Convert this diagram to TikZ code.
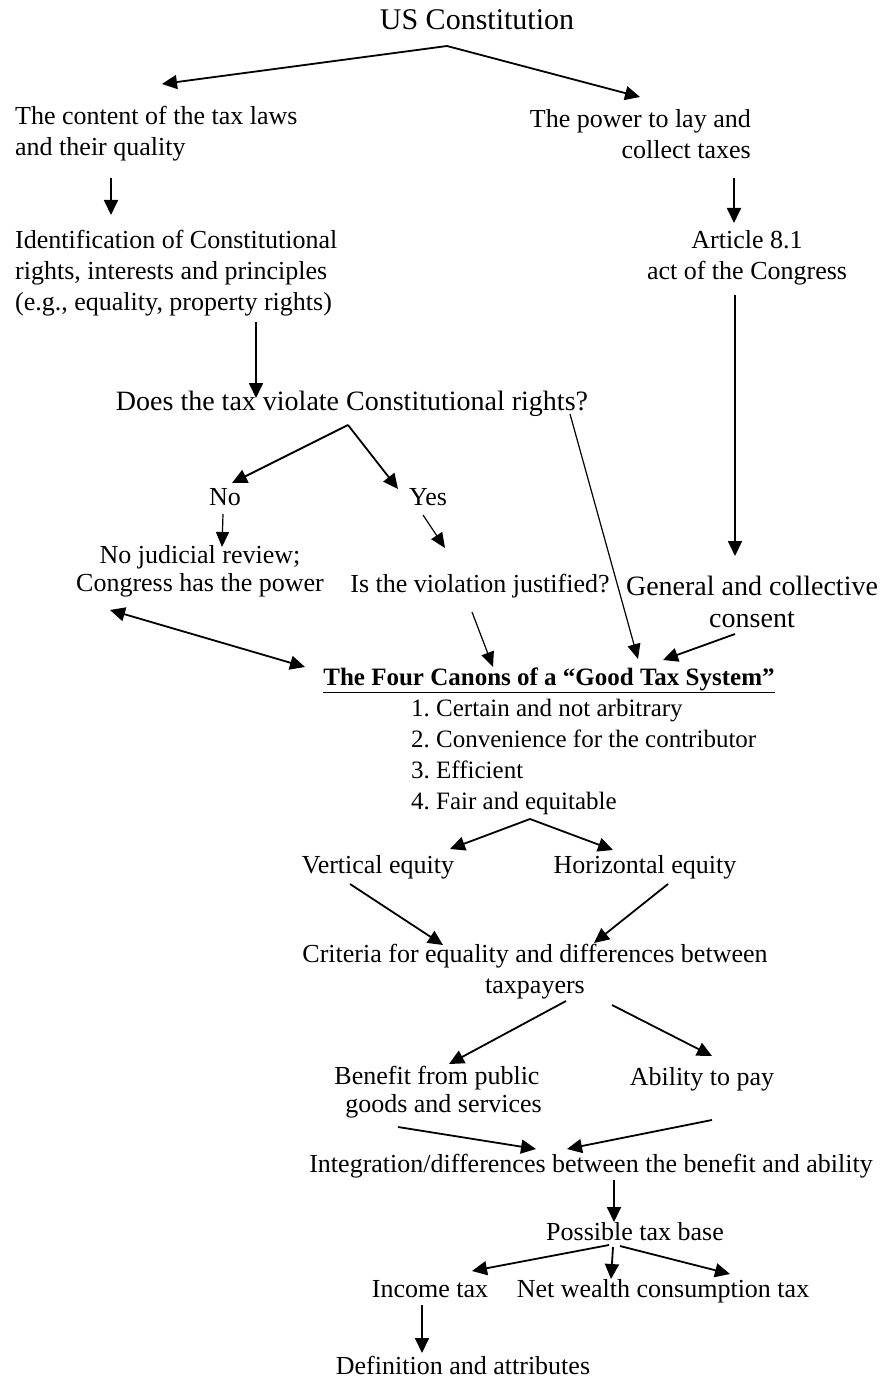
\documentclass[tikz,border=0pt]{standalone}
\usepackage{fontspec}
\setmainfont{Liberation Serif}
\usetikzlibrary{arrows.meta}
\frenchspacing
\tikzset{
  txt/.style={inner sep=0pt, font=\fontsize{26}{31}\selectfont},
  arr/.style={line width=1.8pt, -{Triangle[length=15pt,width=14pt]}},
  thinarr/.style={line width=1.2pt, -{Triangle[length=15pt,width=13pt]}},
  dblarr/.style={line width=1.8pt, {Triangle[length=15pt,width=14pt]}-{Triangle[length=15pt,width=14pt]}},
}
\begin{document}
\begin{tikzpicture}[x=1pt,y=-1pt]
\useasboundingbox (0,0) rectangle (886,1380);
% nodes
\node[txt, font=\fontsize{30}{34}\selectfont] (us) at (477,20) {US Constitution};
\node[txt, anchor=west, align=left] (content) at (15,134) {The content of the tax laws\\and their quality};
\node[txt, anchor=east, align=right] (power) at (751,134) {The power to lay and\\collect taxes};
\node[txt, anchor=west, align=left] (ident) at (15,273) {Identification of Constitutional\\rights, interests and principles\\(e.g., equality, property rights)};
\node[txt, align=center] (article) at (747,258) {Article 8.1\\act of the Congress};
\node[txt, font=\fontsize{28}{32}\selectfont] (does) at (352,404) {Does the tax violate Constitutional rights?};
\node[txt, anchor=base] (no) at (225,505) {No};
\node[txt, anchor=base] (yes) at (428,505) {Yes};
\node[txt, align=center, font=\fontsize{26}{28}\selectfont] (nojud) at (200,571) {No judicial review;\\Congress has the power};
\node[txt] (isviol) at (480,586) {Is the violation justified?};
\node[txt, align=center, font=\fontsize{28}{32}\selectfont] (general) at (752,602) {General and collective\\consent};
\node[txt, font=\fontsize{25}{31}\bfseries] (canons) at (549,680) {\underline{The Four Canons of a “Good Tax System”}};
\node[txt, anchor=west, align=left, font=\fontsize{25}{31}\selectfont] (list) at (411,757) {1. Certain and not arbitrary\\2. Convenience for the contributor\\3. Efficient\\4. Fair and equitable};
\node[txt, anchor=base] (vert) at (378,873) {Vertical equity};
\node[txt, anchor=base] (horiz) at (645,873) {Horizontal equity};
\node[txt, align=center] (criteria) at (535,972) {Criteria for equality and differences between\\taxpayers};
\node[txt, align=center, font=\fontsize{26}{28}\selectfont] (benefit) at (437,1092) {Benefit from public\\\ \ goods and services};
\node[txt] (ability) at (702,1079) {Ability to pay};
\node[txt] (integ) at (591,1166) {Integration/differences between the benefit and ability};
\node[txt] (possible) at (635,1232) {Possible tax base};
\node[txt, anchor=base] (income) at (430,1297) {Income tax};
\node[txt, anchor=base] (netw) at (663,1297) {Net wealth consumption tax};
\node[txt] (defn) at (463,1365) {Definition and attributes};
% connector points
\coordinate (usS) at (447,46);
\coordinate (contentN) at (162,84);
\coordinate (powerN) at (640,97);
\coordinate (contentS) at (111,178);
\coordinate (identN) at (111,215);
\coordinate (powerS) at (734,178);
\coordinate (articleN) at (734,223);
\coordinate (identS) at (256,322);
\coordinate (doesN) at (256,398);
\coordinate (articleS) at (735,295);
\coordinate (generalN) at (735,556);
\coordinate (doesS) at (348,425);
\coordinate (noN) at (232,483);
\coordinate (yesN) at (398,489);
\coordinate (noS) at (223,514);
\coordinate (nojudN) at (222,547);
\coordinate (yesS) at (423,515);
\coordinate (isviolN) at (445,548);
\coordinate (doesR) at (570,414);
\coordinate (canonsA) at (638,659);
\coordinate (generalS) at (735,634);
\coordinate (canonsB) at (663,660);
\coordinate (isviolS) at (472,612);
\coordinate (canonsC) at (493,667);
\coordinate (nojudS) at (110,610);
\coordinate (canonsL) at (305,667);
\coordinate (listS) at (530,819);
\coordinate (vertN) at (450,849);
\coordinate (horizN) at (613,850);
\coordinate (vertS) at (350,884);
\coordinate (critA) at (443,945);
\coordinate (horizS) at (668,884);
\coordinate (critB) at (594,943);
\coordinate (critS1) at (566,1001);
\coordinate (benefitN) at (449,1064);
\coordinate (critS2) at (612,1005);
\coordinate (abilityN) at (712,1056);
\coordinate (benefitS) at (398,1127);
\coordinate (integA) at (536,1149);
\coordinate (abilityS) at (712,1120);
\coordinate (integB) at (567,1149);
\coordinate (integS) at (614,1180);
\coordinate (possibleN) at (614,1222);
\coordinate (possS1) at (609,1245);
\coordinate (incomeN) at (472,1271);
\coordinate (possS2) at (613,1247);
\coordinate (netwN) at (611,1279);
\coordinate (possS3) at (620,1246);
\coordinate (netwN2) at (730,1274);
\coordinate (incomeS) at (422,1305);
\coordinate (defnN) at (422,1353);
% connectors
\draw[arr] (usS) -- (contentN);
\draw[arr] (usS) -- (powerN);
\draw[arr] (contentS) -- (identN);
\draw[arr] (powerS) -- (articleN);
\draw[arr] (identS) -- (doesN);
\draw[arr] (articleS) -- (generalN);
\draw[arr] (doesS) -- (noN);
\draw[arr] (doesS) -- (yesN);
\draw[thinarr] (noS) -- (nojudN);
\draw[thinarr] (yesS) -- (isviolN);
\draw[thinarr] (doesR) -- (canonsA);
\draw[arr] (generalS) -- (canonsB);
\draw[thinarr] (isviolS) -- (canonsC);
\draw[dblarr] (nojudS) -- (canonsL);
\draw[arr] (listS) -- (vertN);
\draw[arr] (listS) -- (horizN);
\draw[arr] (vertS) -- (critA);
\draw[arr] (horizS) -- (critB);
\draw[arr] (critS1) -- (benefitN);
\draw[arr] (critS2) -- (abilityN);
\draw[arr] (benefitS) -- (integA);
\draw[arr] (abilityS) -- (integB);
\draw[arr] (integS) -- (possibleN);
\draw[arr] (possS1) -- (incomeN);
\draw[arr] (possS2) -- (netwN);
\draw[arr] (possS3) -- (netwN2);
\draw[arr] (incomeS) -- (defnN);
\end{tikzpicture}
\end{document}
